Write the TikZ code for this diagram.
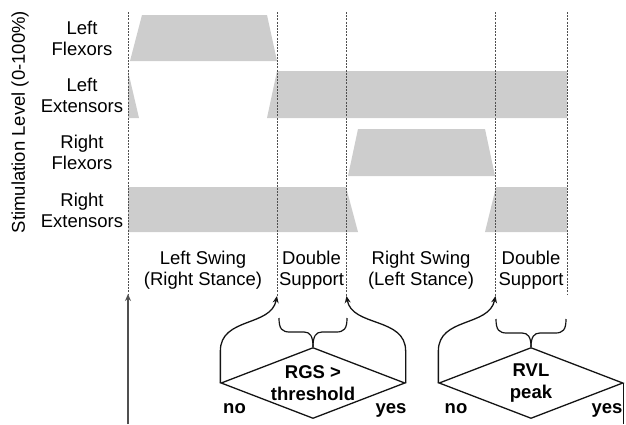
\documentclass[tikz,border=0pt]{standalone}
\usepackage{fontspec}
\setmainfont{Liberation Sans}
\usetikzlibrary{shapes.geometric,arrows.meta}
\definecolor{band}{RGB}{205,205,205}
\definecolor{guide}{RGB}{80,80,80}
\definecolor{ink}{RGB}{20,20,20}
\tikzset{
  x=1pt, y=-1pt,
  txt/.style={font=\fontsize{18.5}{21}\selectfont, align=center, inner sep=0pt},
  btxt/.style={font=\fontsize{18.5}{21}\selectfont\bfseries, align=center, inner sep=0pt},
  level/.style={fill=band, draw=none},
  phaseline/.style={draw=guide, line width=1pt, dash pattern=on 2pt off 1.2pt},
  decision/.style={shape=diamond, draw=ink, line width=1.3pt, inner sep=0pt, aspect=2.6,
    minimum width=184pt, minimum height=71pt, font=\fontsize{18.5}{22}\selectfont\bfseries, align=center},
  flow/.style={draw=ink, line width=1.3pt, -{Stealth[length=7pt,width=6pt]}},
  brace/.style={draw=ink, line width=1.2pt},
}
\begin{document}
\begin{tikzpicture}
\useasboundingbox (0,0) rectangle (626,424);

% stimulation levels
\fill[level] (130,61) -- (142,15) -- (267,15) -- (277,61) -- cycle;
\fill[level] (128,71) -- (139,118) -- (128,118) -- cycle;
\fill[level] (267,118) -- (277,71) -- (567,71) -- (567,118) -- cycle;
\fill[level] (348,176) -- (358,129) -- (485,129) -- (495,176) -- cycle;
\fill[level] (128,187) -- (346,187) -- (358,232) -- (128,232) -- cycle;
\fill[level] (485,232) -- (496,187) -- (567,187) -- (567,232) -- cycle;

% phase boundaries
\coordinate (p0) at (128,12);   \coordinate (q0) at (128,294);
\coordinate (p1) at (277,12);   \coordinate (q1) at (277,296);
\coordinate (p2) at (346.5,12); \coordinate (q2) at (346.5,296);
\coordinate (p3) at (495.5,12); \coordinate (q3) at (495.5,296);
\coordinate (p4) at (567,12);   \coordinate (q4) at (567,295);
\foreach \i in {0,...,4} \draw[phaseline] (p\i) -- (q\i);

% axis title and row labels
\node[txt, rotate=90] (axis) at (20,122) {Stimulation Level (0-100\%)};
\node[txt] (lf) at (82,38) {Left\\Flexors};
\node[txt] (le) at (82,95) {Left\\Extensors};
\node[txt] (rf) at (82,152) {Right\\Flexors};
\node[txt] (re) at (82,210) {Right\\Extensors};

% gait phases
\node[txt] (ph1) at (203,270) {Left Swing\\(Right Stance)};
\node[txt] (ph2) at (311.5,270) {Double\\Support};
\node[txt] (ph3) at (421,270) {Right Swing\\(Left Stance)};
\node[txt] (ph4) at (531,270) {Double\\Support};

% decisions
\node[decision] (d1) at (313,383) {RGS >\\threshold};
\node[decision] (d2) at (531,383) {RVL\\peak};

\node[btxt, anchor=base] (no1) at (234.5,413) {no};
\node[btxt, anchor=base] (yes1) at (391,413) {yes};
\node[btxt, anchor=base] (no2) at (456,413) {no};
\node[btxt, anchor=base] (yes2) at (607,413) {yes};

% braces over the double support phases
\draw[brace] (279,318) .. controls (279,329) and (282,332) .. (290,332) -- (304,332)
  .. controls (310,332) and (313,336) .. (d1.north);
\draw[brace] (347,318) .. controls (347,329) and (344,332) .. (336,332) -- (322,332)
  .. controls (316,332) and (313,336) .. (d1.north);
\draw[brace] (496,319) .. controls (496,330) and (499,333) .. (507,333) -- (522,333)
  .. controls (528,333) and (531,337) .. (d2.north);
\draw[brace] (566,319) .. controls (566,330) and (563,333) .. (555,333) -- (540,333)
  .. controls (534,333) and (531,337) .. (d2.north);

% transitions
\coordinate (start) at (128,424);
\draw[flow, draw=guide, line width=1.8pt] (start) -- (q0);
\draw[flow] (d1.west) -- ++(0,-32) .. controls +(0,-34) and (271,327) .. (q1);
\draw[flow] (d1.east) -- ++(0,-32) .. controls +(0,-34) and (352,327) .. (q2);
\draw[flow] (d2.west) -- ++(0,-32) .. controls +(0,-34) and (489,327) .. (q3);
\coordinate (out) at (d2.east |- start);
\draw[draw=ink, line width=1.3pt] (d2.east) -- (out);
\end{tikzpicture}
\end{document}
